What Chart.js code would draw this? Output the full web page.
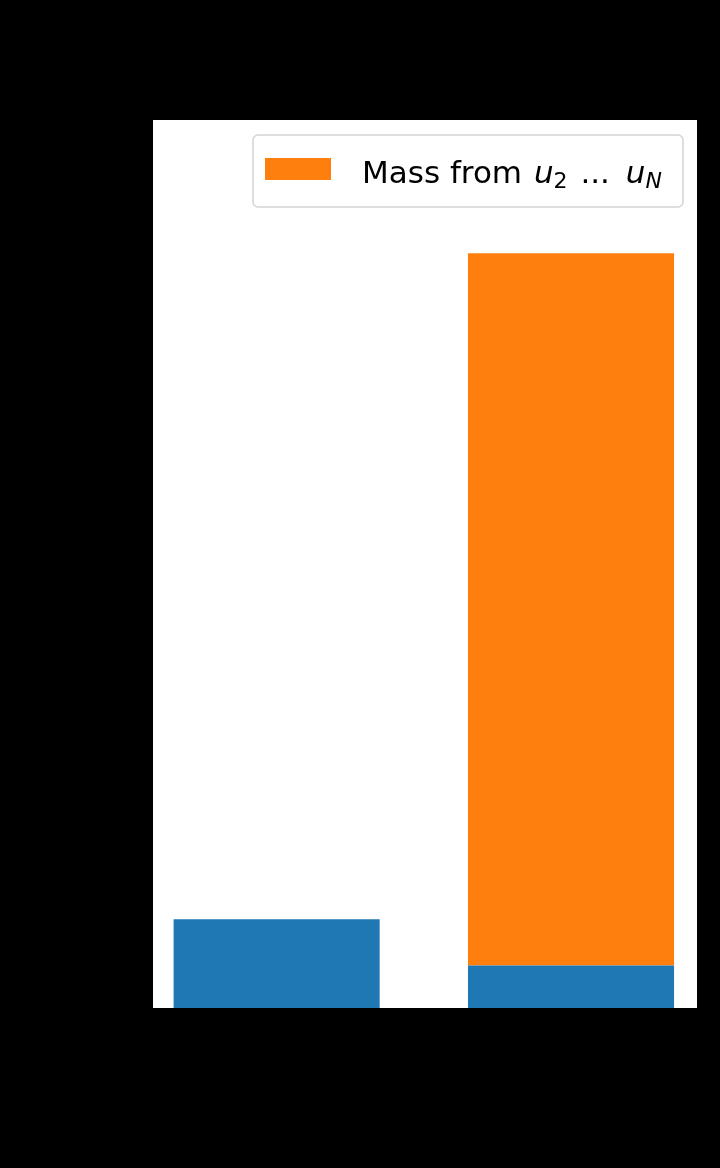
<!DOCTYPE html>
<html>
<head>
<meta charset="utf-8">
<script src="https://cdn.jsdelivr.net/npm/chart.js@4.4.1/dist/chart.umd.min.js"></script>
<style>
  html, body { margin: 0; padding: 0; background: #000; }
  canvas { display: block; }
</style>
</head>
<body>
<canvas id="c" width="720" height="1168"></canvas>
<script>
// ---- data ----
const categories = ['u_1', 'u_1 ... u_N'];
const categoryPositions = [0, 1];
const baseMass = [0.100, 0.048];          // blue
const extraMass = [null, 0.802];          // orange (only second bar)
const yTicks = [0, 0.2, 0.4, 0.6, 0.8, 1.0];
const legendLabel = 'Mass from u_2 ... u_N';

const BLUE = '#1f77b4';
const ORANGE = '#ff7f0e';

const bgPlugin = {
  id: 'bg',
  beforeDraw(chart) {
    const ctx = chart.ctx;
    const a = chart.chartArea;
    ctx.save();
    ctx.fillStyle = '#000';
    ctx.fillRect(0, 0, chart.width, chart.height);
    ctx.fillStyle = '#fff';
    ctx.fillRect(a.left, a.top, a.right - a.left, a.bottom - a.top);
    ctx.restore();
  }
};

function roundRect(ctx, x, y, w, h, r) {
  ctx.beginPath();
  ctx.moveTo(x + r, y);
  ctx.lineTo(x + w - r, y);
  ctx.arcTo(x + w, y, x + w, y + r, r);
  ctx.lineTo(x + w, y + h - r);
  ctx.arcTo(x + w, y + h, x + w - r, y + h, r);
  ctx.lineTo(x + r, y + h);
  ctx.arcTo(x, y + h, x, y + h - r, r);
  ctx.lineTo(x, y + r);
  ctx.arcTo(x, y, x + r, y, r);
  ctx.closePath();
}

const legendPlugin = {
  id: 'mplLegend',
  afterDraw(chart) {
    const ctx = chart.ctx;
    const a = chart.chartArea;
    const ds = chart.data.datasets[1];
    const fs = 31;
    const up = fs + 'px "DejaVu Sans"';
    const it = 'oblique ' + fs + 'px "DejaVu Sans"';
    const sub = Math.round(fs * 0.7) + 'px "DejaVu Sans"';
    const subIt = 'oblique ' + Math.round(fs * 0.7) + 'px "DejaVu Sans"';
    const m = ds.label.match(/^(.*?)(\w)_(\w)(.*?)(\w)_(\w)$/);
    const segs = [
      { t: m[1], f: up, dy: 0, gap: 2 },
      { t: m[2], f: it, dy: 0, gap: 0 },
      { t: m[3], f: /\d/.test(m[3]) ? sub : subIt, dy: 5, gap: 3 },
      { t: m[4], f: up, dy: 0, gap: 6 },
      { t: m[5], f: it, dy: 0, gap: 0 },
      { t: m[6], f: /\d/.test(m[6]) ? sub : subIt, dy: 5, gap: 0 }
    ];
    ctx.save();
    const boxRight = a.right - 14;
    const boxLeft = a.left + 100;
    const boxTop = a.top + 15;
    const boxH = 72;
    ctx.globalAlpha = 0.8;
    ctx.fillStyle = '#fff';
    roundRect(ctx, boxLeft, boxTop, boxRight - boxLeft, boxH, 5);
    ctx.fill();
    ctx.globalAlpha = 1;
    ctx.strokeStyle = '#d4d4d4';
    ctx.lineWidth = 1.5;
    ctx.stroke();
    ctx.fillStyle = ds.backgroundColor;
    ctx.fillRect(boxLeft + 12, boxTop + 23, 66, 22);
    let x = boxLeft + 109;
    const base = boxTop + 48;
    ctx.fillStyle = '#000';
    ctx.textBaseline = 'alphabetic';
    for (const s of segs) {
      ctx.font = s.f;
      ctx.fillText(s.t, x, base + s.dy);
      x += ctx.measureText(s.t).width + s.gap;
    }
    ctx.restore();
  }
};

new Chart(document.getElementById('c'), {
  type: 'bar',
  data: {
    datasets: [
      {
        label: 'Mass from u_1',
        data: categoryPositions.map((x, i) => ({ x, y: baseMass[i] })),
        backgroundColor: BLUE,
        borderWidth: 0
      },
      {
        label: legendLabel,
        data: categoryPositions.map((x, i) => ({ x, y: extraMass[i] })),
        backgroundColor: ORANGE,
        borderWidth: 0
      }
    ]
  },
  options: {
    responsive: false,
    devicePixelRatio: 1,
    animation: false,
    barPercentage: 0.7,
    categoryPercentage: 1.0,
    layout: { padding: { top: 120, right: 23, left: 0, bottom: 0 } },
    plugins: { legend: { display: false }, tooltip: { enabled: false } },
    scales: {
      x: {
        type: 'linear',
        stacked: true,
        offset: false,
        bounds: 'data',
        min: -0.42,
        max: 1.428,
        grid: { display: false, offset: false },
        border: { display: false },
        afterBuildTicks: s => { s.ticks = categoryPositions.map(v => ({ value: v })); },
        ticks: {
          color: '#000',
          font: { family: 'DejaVu Sans', size: 18 },
          callback: (v) => categories[categoryPositions.indexOf(v)] ?? ''
        },
        afterFit: s => { s.height = 160; }
      },
      y: {
        stacked: true,
        min: 0,
        max: 1,
        grid: { display: false },
        border: { display: false },
        afterBuildTicks: s => { s.ticks = yTicks.map(v => ({ value: v })); },
        ticks: {
          color: '#000',
          font: { family: 'DejaVu Sans', size: 18 },
          callback: v => v.toFixed(1)
        },
        afterFit: s => { s.width = 153; }
      }
    }
  },
  plugins: [bgPlugin, legendPlugin]
});
</script>
</body>
</html>
